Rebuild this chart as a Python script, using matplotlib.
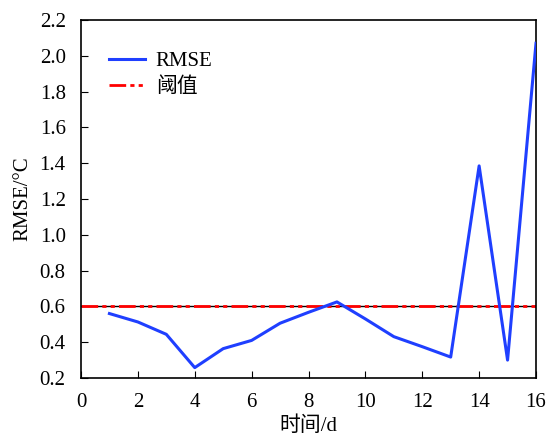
import matplotlib
matplotlib.use("Agg")
import matplotlib.pyplot as plt

plt.rcParams['font.family'] = ['Liberation Serif', 'Noto Sans CJK SC']
plt.rcParams['mathtext.fontset'] = 'stix'

days = [1, 2, 3, 4, 5, 6, 7, 8, 9, 10, 11, 12, 13, 14, 15, 16]
rmse = [0.56, 0.513, 0.444, 0.258, 0.364, 0.41, 0.506, 0.567, 0.625, 0.53, 0.431, 0.375, 0.317, 1.385, 0.30, 2.07]
threshold = 0.6
xticks = [0, 2, 4, 6, 8, 10, 12, 14, 16]
yticks = [0.2, 0.4, 0.6, 0.8, 1.0, 1.2, 1.4, 1.6, 1.8, 2.0, 2.2]

fig = plt.figure(figsize=(5.48, 4.4), dpi=100)
ax = fig.add_axes([81/548, 1-378/440, (536-81)/548, (378-20)/440])

ax.plot(days, rmse, color='#1f3fff', lw=2.2, label='RMSE', zorder=3)
ax.axhline(threshold, color='black', lw=1.0, zorder=2)
ax.axhline(threshold, color='red', lw=2.0, dashes=(6, 1.5, 1.5, 1.5, 1.5, 1.5), label='阈值', zorder=2.5)

ax.set_xlim(0, 16)
ax.set_ylim(0.2, 2.2)
ax.set_xticks(xticks)
ax.set_yticks(yticks)
ax.set_xticklabels([str(v) for v in xticks])
ax.set_yticklabels([f'{v:.1f}' for v in yticks])
ax.tick_params(direction='in', labelsize=15, top=False, right=False, length=5, pad=11)
for s in ax.spines.values():
    s.set_linewidth(1.2)

ax.set_xlabel('时间/d', fontsize=15, labelpad=3)
ax.set_ylabel('RMSE/°C', fontsize=15, labelpad=5)

leg = ax.legend(loc='upper left', bbox_to_anchor=(0.02, 0.965), frameon=False, fontsize=15,
                handlelength=1.75, handletextpad=0.5, labelspacing=0.3)

fig.savefig('out.png', dpi=100)
